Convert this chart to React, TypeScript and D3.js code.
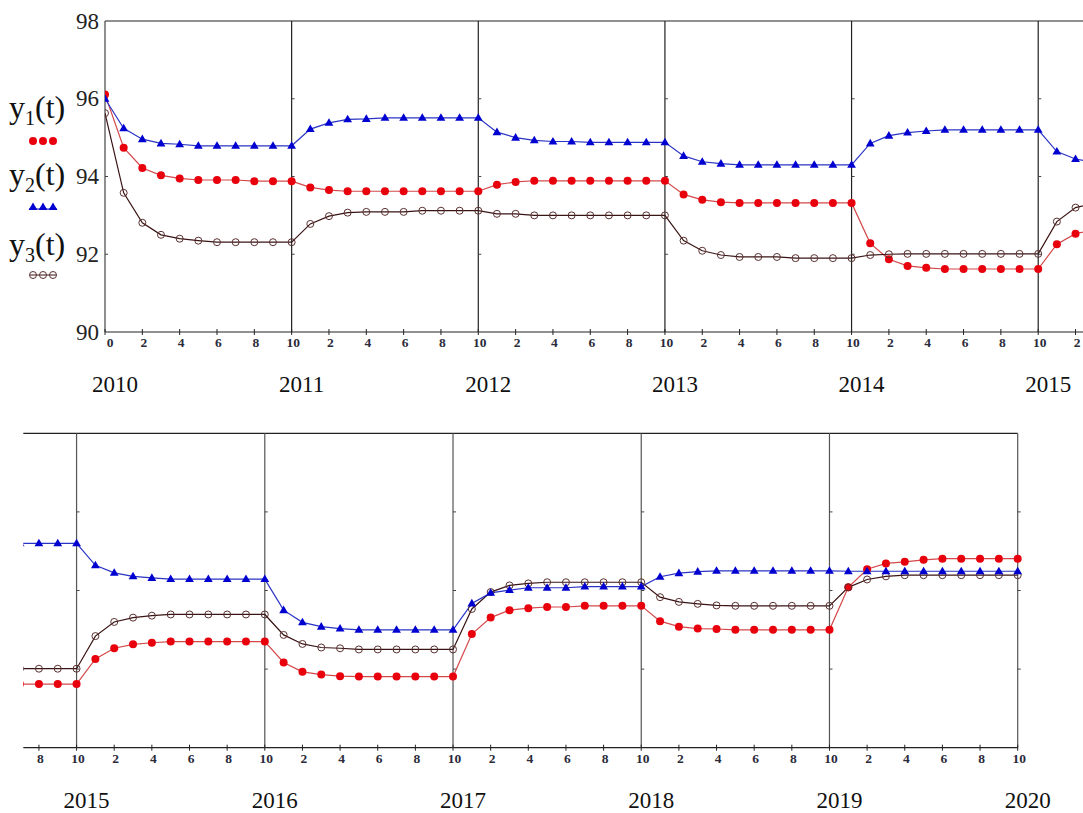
import { scaleLinear, line as d3_line, range } from "d3"

// time index: 10 steps per year, t = 0 is 2010, t = 100 is 2020
const years = [2010, 2011, 2012, 2013, 2014, 2015, 2016, 2017, 2018, 2019, 2020]
const yTicks = [90, 92, 94, 96, 98]

const y1 = [
  96.11, 94.74, 94.22, 94.03, 93.95, 93.91, 93.91, 93.91, 93.88, 93.88, 93.88,
  93.72, 93.65, 93.62, 93.62, 93.62, 93.62, 93.62, 93.62, 93.62, 93.62,
  93.79, 93.86, 93.89, 93.89, 93.89, 93.89, 93.89, 93.89, 93.89, 93.89,
  93.54, 93.4, 93.34, 93.32, 93.32, 93.32, 93.32, 93.32, 93.32, 93.32,
  92.28, 91.87, 91.7, 91.65, 91.62, 91.62, 91.62, 91.62, 91.62, 91.62,
  92.26, 92.53, 92.63, 92.67, 92.7, 92.7, 92.7, 92.7, 92.7, 92.7,
  92.17, 91.93, 91.86, 91.82, 91.81, 91.81, 91.81, 91.81, 91.81, 91.81,
  92.89, 93.31, 93.5, 93.55, 93.58, 93.58, 93.61, 93.61, 93.61, 93.61,
  93.22, 93.08, 93.03, 93.02, 93.0, 93.0, 93.0, 93.0, 93.0, 93.0,
  94.08, 94.54, 94.69, 94.73, 94.78, 94.81, 94.81, 94.81, 94.81, 94.81,
]

const y2 = [
  96.0, 95.24, 94.96, 94.85, 94.83, 94.79, 94.79, 94.79, 94.79, 94.79, 94.79,
  95.22, 95.38, 95.47, 95.48, 95.51, 95.51, 95.51, 95.51, 95.51, 95.51,
  95.14, 95.0, 94.93, 94.9, 94.9, 94.88, 94.88, 94.88, 94.88, 94.88,
  94.53, 94.38, 94.33, 94.3, 94.3, 94.3, 94.3, 94.3, 94.3, 94.3,
  94.85, 95.05, 95.13, 95.17, 95.2, 95.2, 95.2, 95.2, 95.2, 95.2,
  94.64, 94.45, 94.36, 94.32, 94.29, 94.29, 94.29, 94.29, 94.29, 94.29,
  93.5, 93.19, 93.08, 93.03, 93.0, 93.0, 93.0, 93.0, 93.0, 93.0,
  93.67, 93.94, 94.01, 94.07, 94.07, 94.07, 94.1, 94.1, 94.1, 94.1,
  94.35, 94.44, 94.48, 94.5, 94.5, 94.5, 94.5, 94.5, 94.5, 94.5,
  94.49, 94.49, 94.49, 94.49, 94.49, 94.49, 94.49, 94.49, 94.49, 94.49,
]

const y3 = [
  95.63, 93.58, 92.81, 92.5, 92.4, 92.35, 92.31, 92.31, 92.31, 92.31, 92.31,
  92.78, 92.98, 93.07, 93.09, 93.09, 93.09, 93.12, 93.12, 93.12, 93.12,
  93.04, 93.04, 93.0, 93.0, 93.0, 93.0, 93.0, 93.0, 93.0, 93.0,
  92.35, 92.09, 91.98, 91.93, 91.93, 91.93, 91.9, 91.9, 91.9, 91.9,
  91.98, 92.0, 92.01, 92.01, 92.01, 92.01, 92.01, 92.01, 92.01, 92.01,
  92.84, 93.2, 93.31, 93.36, 93.39, 93.39, 93.39, 93.39, 93.39, 93.39,
  92.87, 92.64, 92.55, 92.53, 92.5, 92.5, 92.5, 92.5, 92.5, 92.5,
  93.53, 93.96, 94.13, 94.18, 94.21, 94.21, 94.21, 94.21, 94.21, 94.21,
  93.83, 93.71, 93.66, 93.62, 93.61, 93.61, 93.61, 93.61, 93.61, 93.61,
  94.08, 94.28, 94.36, 94.39, 94.39, 94.39, 94.39, 94.39, 94.39, 94.39,
]

const W = 1083
const H = 813
const FONT = "'Liberation Serif', 'Times New Roman', serif"

type Panel = {
  id: string
  t0: number
  t1: number
  x0: number
  x1: number
  top: number
  bottom: number
  leftAxis: boolean
  gridColor: string
}

const panels: Panel[] = [
  { id: "top", t0: 0, t1: 52.4, x0: 105, x1: 1083, top: 21, bottom: 332, leftAxis: true, gridColor: "#222" },
  { id: "bot", t0: 47.17, t1: 100, x0: 23.3, x1: 1017.7, top: 433.3, bottom: 747.7, leftAxis: false, gridColor: "#555" },
]

const series = [
  { name: "y1", values: y1, line: "#d4484a", marker: "dot" },
  { name: "y3", values: y3, line: "#3a1414", marker: "ring" },
  { name: "y2", values: y2, line: "#2a34c4", marker: "tri" },
]

function Marker({ kind, x, y }: { kind: string; x: number; y: number }) {
  if (kind === "dot") return <circle cx={x} cy={y} r={4} fill="#e8000c" />
  if (kind === "tri")
    return <path d={`M${x},${y - 4.6} L${x + 4.4},${y + 3} L${x - 4.4},${y + 3} Z`} fill="#0000d0" />
  return <circle cx={x} cy={y} r={3.5} fill="none" stroke="#5a3030" strokeWidth={1} />
}

function ChartPanel({ p }: { p: Panel }) {
  const x = scaleLinear().domain([p.t0, p.t1]).range([p.x0, p.x1])
  const y = scaleLinear().domain([90, 98]).range([p.bottom, p.top])
  const tMin = Math.ceil(p.t0)
  const tMax = Math.floor(p.t1)
  const ticks = range(tMin, tMax + 1).filter((t) => t % 2 === 0)
  const bounds = range(0, 101, 10).filter((t) => t >= p.t0 && t <= p.t1 + 0.01)
  const idx = range(0, 101)
  const path = d3_line<number>()
    .x((i) => x(i))
    .y((i) => 0)
  const clipId = `clip-${p.id}`
  const label = (t: number) => (t % 10 === 0 ? (t === 0 ? "0" : "10") : String(t % 10))

  return (
    <g>
      <defs>
        <clipPath id={clipId}>
          <rect x={p.x0} y={p.top - 10} width={p.x1 - p.x0 + 6} height={p.bottom - p.top + 20} />
        </clipPath>
      </defs>

      {/* frame */}
      <line x1={p.x0} x2={p.x1} y1={p.top} y2={p.top} stroke="#222" strokeWidth={1.2} />
      <line x1={p.x0} x2={p.x1} y1={p.bottom} y2={p.bottom} stroke="#222" strokeWidth={1.2} />
      {p.leftAxis && (
        <g>
          <line x1={p.x0} x2={p.x0} y1={p.top} y2={p.bottom} stroke="#444" strokeWidth={1.2} />
          {yTicks.map((v) => (
            <text key={v} x={99} y={y(v) + 7.5} textAnchor="end" fontSize={23} fontFamily={FONT} fill="#222">
              {v}
            </text>
          ))}
        </g>
      )}

      {/* year boundary lines with small y ticks */}
      {bounds.map((t) => (
        <g key={t}>
          {(t !== 0 || !p.leftAxis) && (
            <line x1={x(t)} x2={x(t)} y1={p.top} y2={p.bottom} stroke={p.gridColor} strokeWidth={1.2} />
          )}
          {yTicks.slice(1, 4).map((v) => (
            <line key={v} x1={x(t)} x2={x(t) + 3} y1={y(v)} y2={y(v)} stroke="#444" strokeWidth={1} />
          ))}
        </g>
      ))}

      {/* x ticks */}
      {ticks.map((t) => (
        <g key={t}>
          <line x1={x(t)} x2={x(t)} y1={p.bottom - 3} y2={p.bottom + 3} stroke="#222" strokeWidth={1} />
          <text
            x={x(t) + (t === 0 ? 5 : 1.5)}
            y={p.bottom + 15}
            textAnchor="middle"
            fontSize={13.5}
            fontWeight="bold"
            fontFamily={FONT}
            fill="#2a2a3a"
          >
            {label(t)}
          </text>
        </g>
      ))}

      {/* years */}
      {bounds.map((t) => (
        <text key={t} x={x(t) + 10} y={p.bottom + 60} textAnchor="middle" fontSize={23} fontFamily={FONT} fill="#111">
          {years[t / 10]}
        </text>
      ))}

      {/* series */}
      <g clipPath={`url(#${clipId})`}>
        {series.map((s) => {
          const ln = path.y((i) => y(s.values[i]))
          return <path key={s.name} d={ln(idx) ?? ""} fill="none" stroke={s.line} strokeWidth={1.2} />
        })}
        {series.map((s) => (
          <g key={s.name}>
            {idx.map((i) => (
              <Marker key={i} kind={s.marker} x={x(i)} y={y(s.values[i])} />
            ))}
          </g>
        ))}
      </g>
    </g>
  )
}

function Legend() {
  const rows = [
    { sub: "1", base: 118, my: 141, kind: "dot" },
    { sub: "2", base: 185, my: 207, kind: "tri" },
    { sub: "3", base: 255, my: 275, kind: "ring" },
  ]
  return (
    <g fontFamily={FONT} fill="#111">
      {rows.map((r) => (
        <g key={r.sub}>
          <text x={9} y={r.base} fontSize={32}>
            y
            <tspan fontSize={20} dy={7}>
              {r.sub}
            </tspan>
            <tspan dy={-7}>(t)</tspan>
          </text>
          {r.kind === "ring" && <line x1={30} x2={56} y1={r.my} y2={r.my} stroke="#3a1414" strokeWidth={1} />}
          {r.kind === "tri" && <line x1={29} x2={57} y1={r.my + 2} y2={r.my + 2} stroke="#2a34c4" strokeWidth={1.2} />}
          {[33, 43, 53].map((mx) => (
            <Marker key={mx} kind={r.kind} x={mx} y={r.my} />
          ))}
        </g>
      ))}
    </g>
  )
}

export default function App() {
  return (
    <svg
      width={W}
      height={H}
      style={{ position: "absolute", left: 0, top: 0, background: "#fff" }}
    >
      <rect width={W} height={H} fill="#fff" />
      {panels.map((p) => (
        <ChartPanel key={p.id} p={p} />
      ))}
      <Legend />
    </svg>
  )
}
